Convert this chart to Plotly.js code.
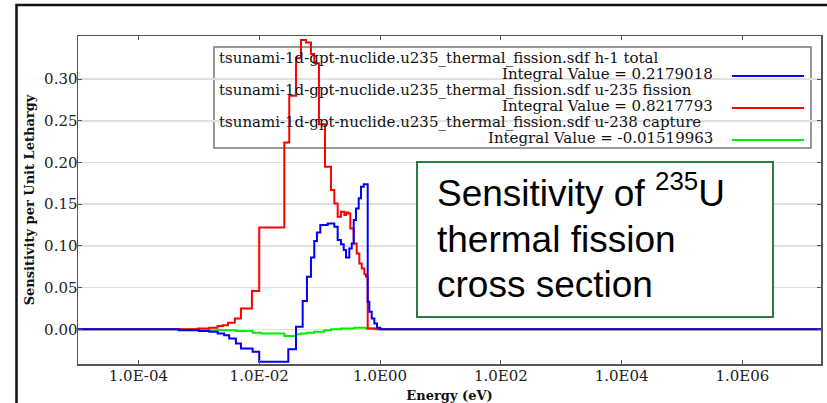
<!DOCTYPE html>
<html>
<head>
<meta charset="utf-8">
<script src="https://cdn.plot.ly/plotly-3.0.1.min.js"></script>
<style>html,body{margin:0;padding:0;background:#fff;}#chart{width:827px;height:403px;}</style>
</head>
<body>
<div id="chart"></div>
<script>
// ---- data (energy group lower edges in eV, sensitivity per unit lethargy) ----
const h1Energy = [1e-5, 4.67e-4, 1.0e-3, 1.49e-3, 2.05e-3, 2.63e-3, 3.18e-3, 4.11e-3, 4.98e-3, 7.78e-3, 1.0e-2, 3.03e-2, 4.06e-2, 5.24e-2, 6.17e-2, 7.19e-2, 8.15e-2, 9.03e-2, 0.1026, 0.136, 0.175, 0.199, 0.226, 0.2505, 0.2735, 0.310, 0.340, 0.3665, 0.400, 0.4437, 0.4845, 0.537, 0.625, 0.665, 0.728, 0.805, 0.891, 1.01, 2e7];
const h1Sens = [0, -0.001, -0.002, -0.003, -0.005, -0.007, -0.011, -0.017, -0.023, -0.027, -0.039, -0.024, 0.003, 0.034, 0.063, 0.086, 0.106, 0.116, 0.125, 0.127, 0.123, 0.107, 0.102, 0.095, 0.086, 0.097, 0.103, 0.131, 0.145, 0.157, 0.171, 0.174, 0.033, 0.021, 0.013, 0.007, 0.002, 0, 0];

const u235Energy = [1e-5, 9.6e-4, 1.49e-3, 2.05e-3, 2.5e-3, 3.03e-3, 3.95e-3, 4.98e-3, 7.57e-3, 1.0e-2, 2.60e-2, 3.14e-2, 4.06e-2, 4.91e-2, 5.94e-2, 7.19e-2, 8.15e-2, 9.75e-2, 0.1227, 0.1541, 0.175, 0.199, 0.226, 0.256, 0.2735, 0.2985, 0.322, 0.3665, 0.411, 0.454, 0.4975, 0.549, 0.586, 0.625, 0.916, 2e7];
const u235Sens = [0, 0.001, 0.002, 0.004, 0.005, 0.008, 0.013, 0.025, 0.046, 0.122, 0.224, 0.280, 0.325, 0.347, 0.344, 0.330, 0.319, 0.246, 0.195, 0.167, 0.151, 0.135, 0.141, 0.137, 0.140, 0.139, 0.121, 0.103, 0.091, 0.079, 0.073, 0.066, 0.063, 0.001, 0, 0];

const u238Energy = [1e-5, 1.08e-3, 4.11e-3, 7.78e-3, 1.07e-2, 2.60e-2, 4.06e-2, 4.91e-2, 6.17e-2, 8.15e-2, 0.1195, 0.1541, 0.226, 0.375, 0.586, 0.805, 2e7];
const u238Sens = [0, -0.001, -0.002, -0.004, -0.005, -0.008, -0.006, -0.005, -0.004, -0.003, -0.001, 0, 0.001, 0.002, 0.001, 0, 0];

const seriesNames = ["tsunami-1d-gpt-nuclide.u235_thermal_fission.sdf h-1 total",
                     "tsunami-1d-gpt-nuclide.u235_thermal_fission.sdf u-235 fission",
                     "tsunami-1d-gpt-nuclide.u235_thermal_fission.sdf u-238 capture"];
const integralValues = ["0.2179018", "0.8217793", "-0.01519963"];
const seriesColors = ["#0000ff", "#ff0000", "#00ee00"];

const xTickVals = [1e-4, 1e-2, 1, 1e2, 1e4, 1e6];
const xTickText = ["1.0E-04", "1.0E-02", "1.0E00", "1.0E02", "1.0E04", "1.0E06"];
const yTickVals = [0, 0.05, 0.10, 0.15, 0.20, 0.25, 0.30];
const yTickText = ["0.00", "0.05", "0.10", "0.15", "0.20", "0.25", "0.30"];

// ---- figure ----
const serif = "DejaVu Serif";
function stepTrace(x, y, i) {
  return {x: x, y: y, type: "scatter", mode: "lines", name: seriesNames[i],
          line: {shape: "hv", color: seriesColors[i], width: 2}, showlegend: false, hoverinfo: "skip"};
}
const traces = [stepTrace(u238Energy, u238Sens, 2), stepTrace(u235Energy, u235Sens, 1), stepTrace(h1Energy, h1Sens, 0)];

// paper helpers derived from layout pixel geometry
const W = 827, H = 403, ML = 78, MR = 6, MT = 36, MB = 39;
const PW = W - ML - MR, PH = H - MT - MB;
const px = v => (v - ML) / PW;
const py = v => (H - MB - v) / PH;

const shapes = [
  {type: "rect", xref: "paper", yref: "paper", x0: px(16.5), x1: px(840), y0: py(420), y1: py(5), line: {color: "#111", width: 2.5}, layer: "below"},
  {type: "rect", xref: "paper", yref: "paper", x0: px(214), x1: px(811), y0: py(148), y1: py(47), line: {color: "#777", width: 1.5}, fillcolor: "#fff", layer: "between"},
  {type: "rect", xref: "paper", yref: "paper", x0: px(417), x1: px(773), y0: py(317), y1: py(162), line: {color: "#2f7a45", width: 2}, fillcolor: "#fff", layer: "above"}
];
const annotations = [];
const legendRows = [59.5, 91.5, 123.5];
for (let i = 0; i < 3; i++) {
  annotations.push({xref: "paper", yref: "paper", x: px(218), y: py(legendRows[i]), xanchor: "left", yanchor: "middle",
    height: 15, borderpad: 0, valign: "bottom",
    text: seriesNames[i], showarrow: false, font: {family: serif, size: 15, color: "#111"}});
  annotations.push({xref: "paper", yref: "paper", x: px(714), y: py(legendRows[i] + 16), xanchor: "right", yanchor: "middle",
    height: 15, borderpad: 0, valign: "bottom",
    text: "Integral Value = " + integralValues[i], showarrow: false, font: {family: serif, size: 15, color: "#111"}});
  shapes.push({type: "line", xref: "paper", yref: "paper", x0: px(732), x1: px(804), y0: py(legendRows[i] + 16.5), y1: py(legendRows[i] + 16.5),
    line: {color: seriesColors[i], width: 2}});
}
const boxLines = ["Sensitivity of <sup>235</sup>U", "thermal fission", "cross section"];
const boxLineY = [190, 239, 284];
for (let i = 0; i < 3; i++) {
  annotations.push({xref: "paper", yref: "paper", x: px(435), y: py(boxLineY[i]), xanchor: "left", yanchor: "middle",
    text: boxLines[i], showarrow: false, font: {family: "Liberation Sans", size: 37, color: "#000"}});
}

const layout = {
  width: W, height: H,
  margin: {l: ML, r: MR, t: MT, b: MB, pad: 0},
  paper_bgcolor: "#fff", plot_bgcolor: "#fff",
  font: {family: serif, size: 15, color: "#222"},
  xaxis: {type: "log", range: [-5, 7.3], tickvals: xTickVals, ticktext: xTickText,
          ticks: "inside", ticklen: 4, tickcolor: "#555", showline: true, linecolor: "#555", linewidth: 1.5, mirror: "ticks",
          showgrid: false, zeroline: false, tickfont: {family: serif, size: 15, color: "#222"}, ticklabelstandoff: -3,
          title: {text: "<b>Energy (eV)</b>", font: {family: serif, size: 13, color: "#111"}, standoff: 8}},
  yaxis: {range: [-0.0416, 0.3517], tickvals: yTickVals, ticktext: yTickText,
          ticks: "inside", ticklen: 4, tickcolor: "#555", showline: true, linecolor: "#555", linewidth: 1.5, mirror: "ticks",
          showgrid: true, gridcolor: "#e0e0e0", gridwidth: 1.5, zeroline: false, tickfont: {family: serif, size: 15, color: "#222"}, ticklabelstandoff: -4,
          title: {text: "<b>Sensitivity per Unit Lethargy</b>", font: {family: serif, size: 13, color: "#111"}, standoff: 6}},
  shapes: shapes,
  annotations: annotations
};
Plotly.newPlot("chart", traces, layout, {staticPlot: true, displayModeBar: false});
</script>
</body>
</html>
